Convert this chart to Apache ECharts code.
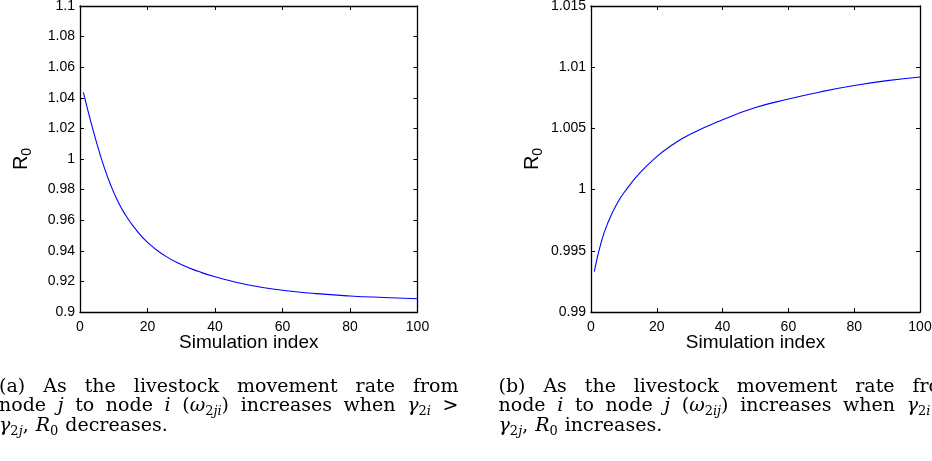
<!DOCTYPE html>
<html>
<head>
<meta charset="utf-8">
<script src="https://cdn.jsdelivr.net/npm/echarts@6/dist/echarts.min.js"></script>
<style>
  html, body { margin: 0; padding: 0; background: #fff; }
  #chart { width: 932px; height: 461px; }
</style>
</head>
<body>
<div id="chart"></div>
<script>
// Panel (a): R0 falls as the movement rate from node j to node i grows
const simIndexA = [1, 3, 5, 7, 9, 11, 13, 16, 20, 25, 30, 35, 40, 50, 60, 70, 80, 90, 100];
const r0Decrease = [1.0435, 1.0261, 1.0101, 0.9957, 0.9835, 0.9733, 0.9651, 0.9555, 0.9455, 0.937,
  0.931, 0.9266, 0.923, 0.9176, 0.9142, 0.912, 0.9105, 0.9095, 0.9087];

// Panel (b): R0 rises as the movement rate from node i to node j grows
const simIndexB = [1, 3, 5, 8, 11, 15, 20, 25, 30, 40, 50, 60, 70, 80, 90, 100];
const r0Increase = [0.9933, 0.9956, 0.9972, 0.9989, 1.0001, 1.0014, 1.0027, 1.0037, 1.0045, 1.0057,
  1.0067, 1.0074, 1.008, 1.0085, 1.0089, 1.0092];

// Axis ranges as [min, max, step]
const xRange = [0, 100, 20];
const yRangeA = [0.9, 1.1, 0.02];
const yRangeB = [0.99, 1.015, 0.005];

// Caption words; {it|..} italic, {sub|..} subscript, {subit|..} italic subscript
const captionA = [
  ['(a)', 'As', 'the', 'livestock', 'movement', 'rate', 'from'],
  ['node', '{it|j}', 'to', 'node', '{it|i}', '({it|ω}{sub|2}{subit|ji})', 'increases', 'when', '{it|γ}{sub|2}{subit|i}', '>'],
  ['{it|γ}{sub|2}{subit|j},', '{it|R}{sub|0}', 'decreases.']
];
const captionB = [
  ['(b)', 'As', 'the', 'livestock', 'movement', 'rate', 'from'],
  ['node', '{it|i}', 'to', 'node', '{it|j}', '({it|ω}{sub|2}{subit|ij})', 'increases', 'when', '{it|γ}{sub|2}{subit|i}', '>'],
  ['{it|γ}{sub|2}{subit|j},', '{it|R}{sub|0}', 'increases.']
];

const sans = 'Liberation Sans';
const serif = 'DejaVu Serif';
const chart = echarts.init(document.getElementById('chart'));

const captionStyles = {
  rm: { fontSize: 19, fontFamily: serif, lineHeight: 24, color: '#000' },
  it: { fontSize: 19, fontFamily: serif, fontStyle: 'italic', lineHeight: 24, color: '#000' },
  sub: { fontSize: 13, fontFamily: serif, lineHeight: 13, verticalAlign: 'bottom', color: '#000' },
  subit: { fontSize: 13, fontFamily: serif, fontStyle: 'italic', lineHeight: 13, verticalAlign: 'bottom', color: '#000' }
};

const measureCtx = document.createElement('canvas').getContext('2d');

function splitWord(word) {
  const re = /\{(\w+)\|([^}]*)\}/g;
  const parts = [];
  let last = 0;
  let m;
  while ((m = re.exec(word)) !== null) {
    if (m.index > last) parts.push(['rm', word.slice(last, m.index)]);
    parts.push([m[1], m[2]]);
    last = re.lastIndex;
  }
  if (last < word.length) parts.push(['rm', word.slice(last)]);
  return parts;
}

function wordWidth(parts) {
  return parts.reduce((w, [key, text]) => {
    const s = captionStyles[key];
    measureCtx.font = (s.fontStyle || 'normal') + ' normal ' + s.fontSize + 'px ' + s.fontFamily;
    return w + measureCtx.measureText(text).width;
  }, 0);
}

// One caption line as rich text; justified lines stretch the gaps to fill width
function captionLine(words, x, y, width, justify) {
  const parts = words.map(splitWord);
  const total = parts.map(wordWidth).reduce((a, b) => a + b, 0);
  const gap = justify ? (width - total) / (words.length - 1) : 7;
  const rich = Object.assign({}, captionStyles, {
    sp: { width: gap, fontSize: 19, fontFamily: serif, lineHeight: 24 }
  });
  const text = parts.map((p) => p.map(([k, t]) => '{' + k + '|' + t + '}').join('')).join('{sp| }');
  return {
    type: 'text',
    x: x,
    y: y,
    silent: true,
    style: { text: text, rich: rich, align: 'left', verticalAlign: 'middle', fill: '#000' }
  };
}

function captionBlock(lines, x) {
  const width = 459.5;
  const ys = [386.8, 406.3, 425.8];
  return lines.map((words, i) => captionLine(words, x, ys[i], width, i < 2));
}

const axisLine = { onZero: false, lineStyle: { color: '#000', width: 1.3 } };
const axisTick = { inside: true, length: 4, lineStyle: { color: '#000', width: 1 } };
const tickLabel = { color: '#000', fontSize: 14, fontFamily: sans };

function xAxes(gridIndex) {
  const base = { gridIndex: gridIndex, type: 'value', min: xRange[0], max: xRange[1], interval: xRange[2],
    axisLine: axisLine, axisTick: axisTick, splitLine: { show: false } };
  return [
    Object.assign({}, base, {
      position: 'bottom',
      axisLabel: Object.assign({ margin: 8 }, tickLabel),
      name: 'Simulation index',
      nameLocation: 'middle',
      nameGap: 21,
      nameMoveOverlap: false,
      nameTextStyle: { color: '#000', fontSize: 19, fontFamily: sans }
    }),
    Object.assign({}, base, { position: 'top', axisLabel: { show: false } })
  ];
}

function yAxes(gridIndex, range) {
  const base = { gridIndex: gridIndex, type: 'value', min: range[0], max: range[1], interval: range[2],
    axisLine: axisLine, axisTick: axisTick, splitLine: { show: false } };
  return [
    Object.assign({}, base, {
      position: 'left',
      axisLabel: Object.assign({ margin: 5 }, tickLabel),
      name: '{r|R}{s|0}',
      nameLocation: 'middle',
      nameRotate: 90,
      nameGap: 46,
      nameMoveOverlap: false,
      nameTextStyle: {
        rich: {
          r: { fontSize: 20, fontFamily: sans, color: '#000', lineHeight: 26 },
          s: { fontSize: 14, fontFamily: sans, color: '#000', lineHeight: 14, verticalAlign: 'bottom' }
        }
      }
    }),
    Object.assign({}, base, { position: 'right', axisLabel: { show: false } })
  ];
}

function curve(xs, ys, axisIndex) {
  return {
    type: 'line',
    xAxisIndex: axisIndex,
    yAxisIndex: axisIndex,
    data: xs.map((x, i) => [x, ys[i]]),
    showSymbol: false,
    smooth: 0.5,
    lineStyle: { color: '#0000ff', width: 1.1 },
    itemStyle: { color: '#0000ff' }
  };
}

chart.setOption({
  animation: false,
  backgroundColor: '#fff',
  grid: [
    { left: 80, top: 6, width: 337.5, height: 306, outerBoundsMode: 'none' },
    { left: 591, top: 6, width: 329, height: 306, outerBoundsMode: 'none' }
  ],
  xAxis: xAxes(0).concat(xAxes(1)),
  yAxis: yAxes(0, yRangeA).concat(yAxes(1, yRangeB)),
  series: [
    curve(simIndexA, r0Decrease, 0),
    curve(simIndexB, r0Increase, 2)
  ],
  graphic: captionBlock(captionA, -1).concat(captionBlock(captionB, 498.5))
});
</script>
</body>
</html>
